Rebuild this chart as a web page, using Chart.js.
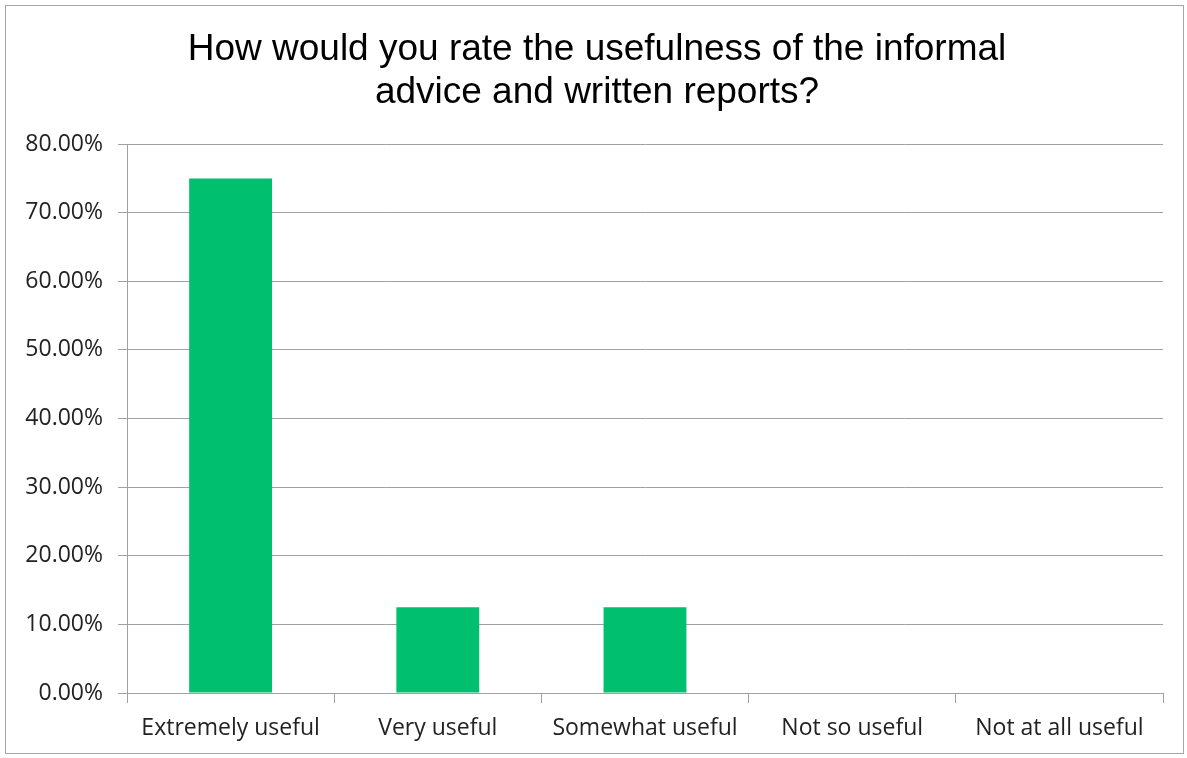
<!DOCTYPE html>
<html lang="en">
<head>
    <meta charset="UTF-8">
    <title>Usefulness of informal advice and written reports</title>
    <script src="https://cdn.jsdelivr.net/npm/chart.js"></script>
    <style>
        html, body { margin: 0; padding: 0; background: #fff; }
        #frame {
            position: absolute; left: 5px; top: 5px;
            width: 1177px; height: 747px;
            border: 1px solid #a6a6a6;
        }
        #wrap { position: absolute; left: 0; top: 0; width: 1187px; height: 758px; }
    </style>
</head>
<body>
    <div id="frame"></div>
    <div id="wrap"><canvas id="chart" width="1187" height="758"></canvas></div>

    <script>
        // survey answers and share of respondents (%)
        const categories = ['Extremely useful', 'Very useful', 'Somewhat useful', 'Not so useful', 'Not at all useful'];
        const shares = [75, 12.5, 12.5, 0, 0];
        const yTicks = [0, 10, 20, 30, 40, 50, 60, 70, 80];

        const labelFont = { family: '"Open Sans", Lato, sans-serif', size: 23 };

        new Chart(document.getElementById('chart'), {
            type: 'bar',
            data: {
                labels: categories,
                datasets: [{
                    data: shares,
                    backgroundColor: '#00bf6f',
                    barPercentage: 0.4,
                    categoryPercentage: 1,
                    yAxisID: 'y'
                }]
            },
            options: {
                responsive: false,
                animation: false,
                layout: { padding: { left: 7, right: 0, top: 0, bottom: 0 } },
                plugins: {
                    legend: { display: false },
                    tooltip: { enabled: false },
                    title: {
                        display: true,
                        text: ['How would you rate the usefulness of the informal', 'advice and written reports?'],
                        color: '#000',
                        font: { family: '"Liberation Sans", Arial, sans-serif', size: 37, weight: 'normal', lineHeight: 1.15 },
                        padding: { top: 29, bottom: 30 }
                    }
                },
                scales: {
                    x: {
                        grid: { drawOnChartArea: false, drawTicks: true, tickLength: 10, color: '#a0a0a0' },
                        border: { color: '#a0a0a0' },
                        ticks: { color: '#222', font: labelFont, padding: 12, maxRotation: 0 },
                        afterFit: s => { s.height = 65; }
                    },
                    y: {
                        min: 0,
                        max: 80,
                        afterBuildTicks: s => { s.ticks = yTicks.map(v => ({ value: v })); },
                        grid: { color: '#a0a0a0', tickLength: 9 },
                        border: { color: '#a0a0a0' },
                        ticks: {
                            color: '#222',
                            font: labelFont,
                            padding: 15,
                            callback: v => v.toFixed(2) + '%'
                        },
                        afterFit: s => { s.width = 120; }
                    },
                    // empty spacer on the right so the title stays centred on the page
                    pad: {
                        type: 'linear',
                        position: 'right',
                        grid: { display: false },
                        border: { display: false },
                        ticks: { display: false },
                        afterFit: s => { s.width = 24; }
                    }
                }
            }
        });
    </script>
</body>
</html>
